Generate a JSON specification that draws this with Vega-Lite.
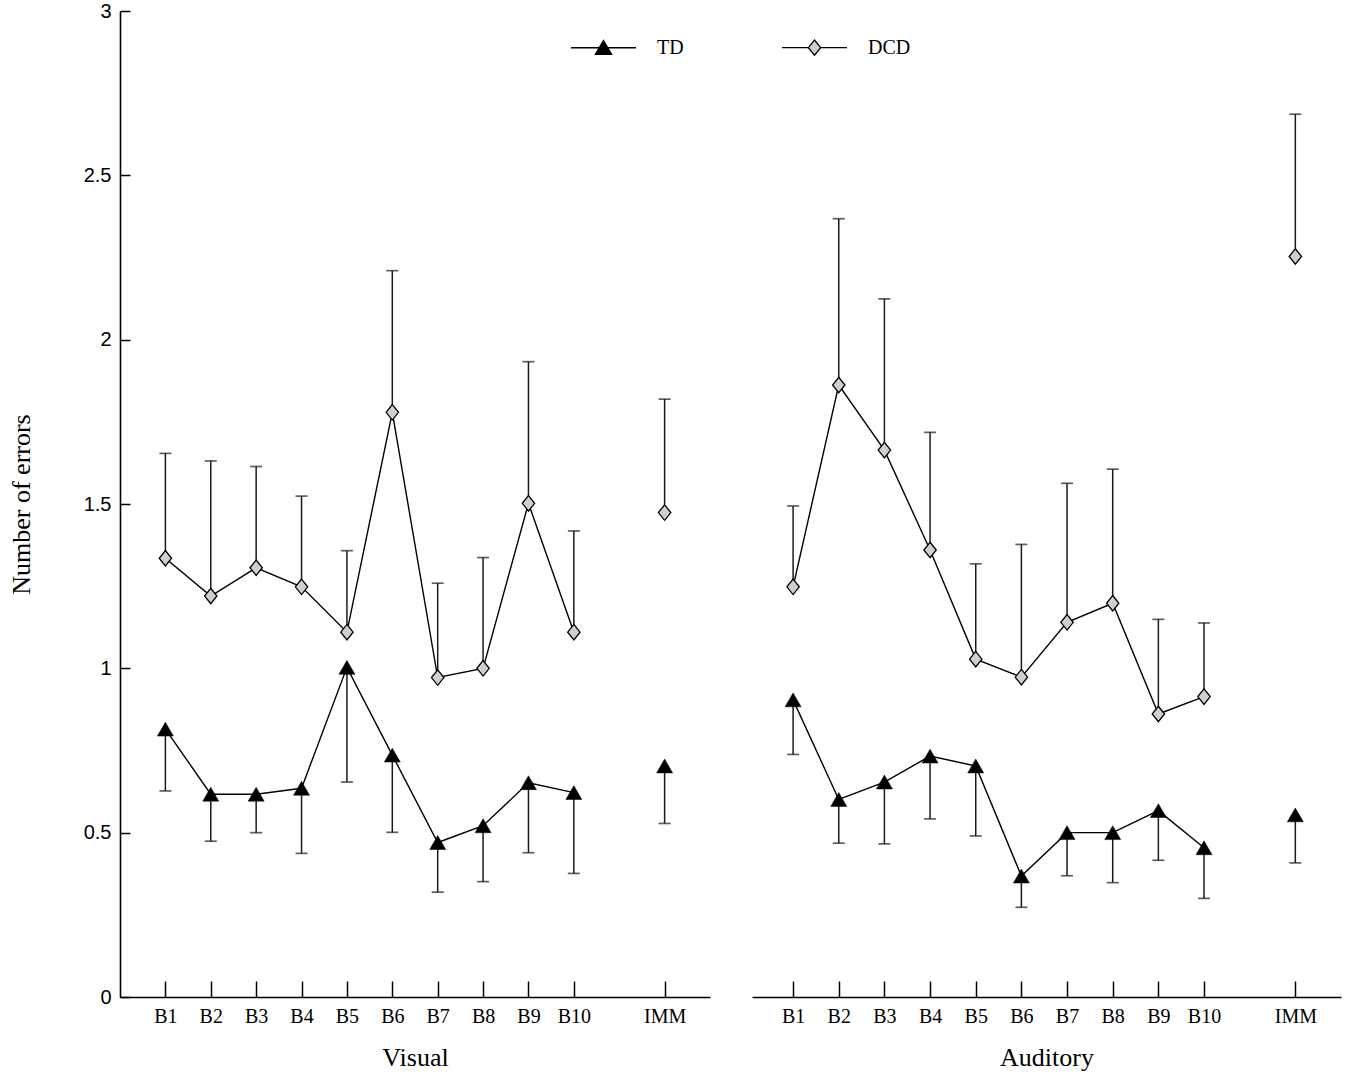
{
  "$schema": "https://vega.github.io/schema/vega-lite/v6.json",
  "background": "white",
  "padding": {"left": 8, "top": 1, "right": 5, "bottom": 5},
  "data": {
    "values": [
      {"panel": "Visual", "group": "TD", "label": "B1", "pos": 1, "errors": 0.815, "bar": 0.627},
      {"panel": "Visual", "group": "TD", "label": "B2", "pos": 2, "errors": 0.617, "bar": 0.474},
      {"panel": "Visual", "group": "TD", "label": "B3", "pos": 3, "errors": 0.617, "bar": 0.5},
      {"panel": "Visual", "group": "TD", "label": "B4", "pos": 4, "errors": 0.635, "bar": 0.437},
      {"panel": "Visual", "group": "TD", "label": "B5", "pos": 5, "errors": 1.003, "bar": 0.654},
      {"panel": "Visual", "group": "TD", "label": "B6", "pos": 6, "errors": 0.736, "bar": 0.501},
      {"panel": "Visual", "group": "TD", "label": "B7", "pos": 7, "errors": 0.47, "bar": 0.319},
      {"panel": "Visual", "group": "TD", "label": "B8", "pos": 8, "errors": 0.521, "bar": 0.351},
      {"panel": "Visual", "group": "TD", "label": "B9", "pos": 9, "errors": 0.652, "bar": 0.439},
      {"panel": "Visual", "group": "TD", "label": "B10", "pos": 10, "errors": 0.622, "bar": 0.376},
      {"panel": "Visual", "group": "TD", "label": "IMM", "pos": 12, "errors": 0.703, "bar": 0.528},
      {"panel": "Visual", "group": "DCD", "label": "B1", "pos": 1, "errors": 1.335, "bar": 1.654},
      {"panel": "Visual", "group": "DCD", "label": "B2", "pos": 2, "errors": 1.22, "bar": 1.631},
      {"panel": "Visual", "group": "DCD", "label": "B3", "pos": 3, "errors": 1.306, "bar": 1.614},
      {"panel": "Visual", "group": "DCD", "label": "B4", "pos": 4, "errors": 1.248, "bar": 1.524},
      {"panel": "Visual", "group": "DCD", "label": "B5", "pos": 5, "errors": 1.11, "bar": 1.358},
      {"panel": "Visual", "group": "DCD", "label": "B6", "pos": 6, "errors": 1.779, "bar": 2.21},
      {"panel": "Visual", "group": "DCD", "label": "B7", "pos": 7, "errors": 0.972, "bar": 1.259},
      {"panel": "Visual", "group": "DCD", "label": "B8", "pos": 8, "errors": 1.0, "bar": 1.337},
      {"panel": "Visual", "group": "DCD", "label": "B9", "pos": 9, "errors": 1.502, "bar": 1.933},
      {"panel": "Visual", "group": "DCD", "label": "B10", "pos": 10, "errors": 1.11, "bar": 1.418},
      {"panel": "Visual", "group": "DCD", "label": "IMM", "pos": 12, "errors": 1.474, "bar": 1.819},
      {"panel": "Auditory", "group": "TD", "label": "B1", "pos": 1, "errors": 0.904, "bar": 0.738},
      {"panel": "Auditory", "group": "TD", "label": "B2", "pos": 2, "errors": 0.601, "bar": 0.468},
      {"panel": "Auditory", "group": "TD", "label": "B3", "pos": 3, "errors": 0.654, "bar": 0.466},
      {"panel": "Auditory", "group": "TD", "label": "B4", "pos": 4, "errors": 0.733, "bar": 0.542},
      {"panel": "Auditory", "group": "TD", "label": "B5", "pos": 5, "errors": 0.703, "bar": 0.49},
      {"panel": "Auditory", "group": "TD", "label": "B6", "pos": 6, "errors": 0.368, "bar": 0.273},
      {"panel": "Auditory", "group": "TD", "label": "B7", "pos": 7, "errors": 0.5, "bar": 0.369},
      {"panel": "Auditory", "group": "TD", "label": "B8", "pos": 8, "errors": 0.5, "bar": 0.348},
      {"panel": "Auditory", "group": "TD", "label": "B9", "pos": 9, "errors": 0.567, "bar": 0.416},
      {"panel": "Auditory", "group": "TD", "label": "B10", "pos": 10, "errors": 0.454, "bar": 0.3},
      {"panel": "Auditory", "group": "TD", "label": "IMM", "pos": 12, "errors": 0.554, "bar": 0.408},
      {"panel": "Auditory", "group": "DCD", "label": "B1", "pos": 1, "errors": 1.248, "bar": 1.494},
      {"panel": "Auditory", "group": "DCD", "label": "B2", "pos": 2, "errors": 1.862, "bar": 2.368},
      {"panel": "Auditory", "group": "DCD", "label": "B3", "pos": 3, "errors": 1.664, "bar": 2.124},
      {"panel": "Auditory", "group": "DCD", "label": "B4", "pos": 4, "errors": 1.36, "bar": 1.718},
      {"panel": "Auditory", "group": "DCD", "label": "B5", "pos": 5, "errors": 1.028, "bar": 1.318},
      {"panel": "Auditory", "group": "DCD", "label": "B6", "pos": 6, "errors": 0.973, "bar": 1.377},
      {"panel": "Auditory", "group": "DCD", "label": "B7", "pos": 7, "errors": 1.14, "bar": 1.563},
      {"panel": "Auditory", "group": "DCD", "label": "B8", "pos": 8, "errors": 1.198, "bar": 1.606},
      {"panel": "Auditory", "group": "DCD", "label": "B9", "pos": 9, "errors": 0.861, "bar": 1.149},
      {"panel": "Auditory", "group": "DCD", "label": "B10", "pos": 10, "errors": 0.914, "bar": 1.138},
      {"panel": "Auditory", "group": "DCD", "label": "IMM", "pos": 12, "errors": 2.253, "bar": 2.686}
    ]
  },
  "spacing": 42,
  "hconcat": [
    {
      "width": 590,
      "height": 986,
      "transform": [{"filter": "datum.panel === 'Visual'"}],
      "encoding": {
        "x": {
          "field": "pos",
          "type": "quantitative",
          "scale": {"domain": [0, 13], "nice": false, "zero": false},
          "axis": {
            "title": "Visual",
            "values": [1, 2, 3, 4, 5, 6, 7, 8, 9, 10, 12],
            "labelExpr": "datum.value == 12 ? 'IMM' : 'B' + datum.value"
          }
        },
        "y": {
          "field": "errors",
          "type": "quantitative",
          "scale": {"domain": [0, 3], "nice": false},
          "axis": {
            "title": "Number of errors",
            "values": [0, 0.5, 1, 1.5, 2, 2.5, 3],
            "format": "~g"
          }
        }
      },
      "layer": [
        {
          "mark": {"type": "rule", "color": "#1a1a1a", "strokeWidth": 1.5},
          "encoding": {"y2": {"field": "bar"}}
        },
        {
          "mark": {"type": "tick", "orient": "horizontal", "color": "#1a1a1a", "thickness": 1.7},
          "encoding": {
            "y": {
              "field": "bar",
              "type": "quantitative",
              "axis": {
                "title": "Number of errors",
                "values": [0, 0.5, 1, 1.5, 2, 2.5, 3],
                "format": "~g"
              }
            },
            "size": {"value": 12}
          }
        },
        {
          "transform": [{"filter": "datum.pos <= 10"}],
          "mark": {"type": "line", "color": "black", "strokeWidth": 1.4},
          "encoding": {"detail": {"field": "group", "type": "nominal"}}
        },
        {
          "transform": [{"filter": "datum.group === 'TD'"}],
          "mark": {"type": "point", "shape": "triangle-up", "filled": true, "fill": "black", "stroke": "black", "strokeWidth": 0.5, "size": 256, "opacity": 1}
        },
        {
          "transform": [{"filter": "datum.group === 'DCD'"}],
          "mark": {"type": "point", "shape": "M0,-1L0.8,0L0,1L-0.8,0Z", "filled": true, "fill": "#cfcfcf", "stroke": "black", "strokeWidth": 1.3, "size": 240, "opacity": 1}
        },
        {
          "mark": {"type": "point", "filled": false, "stroke": "black", "strokeWidth": 1.3, "opacity": 0},
          "encoding": {
            "shape": {
              "field": "group",
              "type": "nominal",
              "scale": {
                "domain": ["TD", "DCD"],
                "range": [
                  "M-1,0H1M0,-0.22L0.25,0.2L-0.25,0.2Z",
                  "M-1,0H-0.19M0.19,0H1M0,-0.235L0.19,0L0,0.235L-0.19,0Z"
                ]
              },
              "legend": {
                "title": null,
                "orient": "none",
                "legendX": 450,
                "legendY": 3,
                "direction": "horizontal",
                "padding": 0,
                "symbolSize": 4225,
                "symbolStrokeWidth": 1.3,
                "symbolOpacity": 1,
                "labelOffset": 20,
                "columnPadding": 95,
                "labelFont": "Liberation Serif",
                "labelFontSize": 20,
                "labelColor": "black"
              }
            },
            "fill": {
              "field": "group",
              "type": "nominal",
              "scale": {"domain": ["TD", "DCD"], "range": ["black", "#cfcfcf"]},
              "legend": {
                "title": null,
                "orient": "none",
                "legendX": 450,
                "legendY": 3,
                "direction": "horizontal",
                "padding": 0,
                "symbolSize": 4225,
                "symbolStrokeWidth": 1.3,
                "symbolOpacity": 1,
                "labelOffset": 20,
                "columnPadding": 95,
                "labelFont": "Liberation Serif",
                "labelFontSize": 20,
                "labelColor": "black"
              }
            }
          }
        }
      ]
    },
    {
      "width": 589,
      "height": 986,
      "transform": [{"filter": "datum.panel === 'Auditory'"}],
      "encoding": {
        "x": {
          "field": "pos",
          "type": "quantitative",
          "scale": {"domain": [0.1, 13], "nice": false, "zero": false},
          "axis": {
            "title": "Auditory",
            "values": [1, 2, 3, 4, 5, 6, 7, 8, 9, 10, 12],
            "labelExpr": "datum.value == 12 ? 'IMM' : 'B' + datum.value"
          }
        },
        "y": {
          "field": "errors",
          "type": "quantitative",
          "scale": {"domain": [0, 3], "nice": false},
          "axis": null
        }
      },
      "layer": [
        {
          "mark": {"type": "rule", "color": "#1a1a1a", "strokeWidth": 1.5},
          "encoding": {"y2": {"field": "bar"}}
        },
        {
          "mark": {"type": "tick", "orient": "horizontal", "color": "#1a1a1a", "thickness": 1.7},
          "encoding": {
            "y": {"field": "bar", "type": "quantitative", "axis": null},
            "size": {"value": 12}
          }
        },
        {
          "transform": [{"filter": "datum.pos <= 10"}],
          "mark": {"type": "line", "color": "black", "strokeWidth": 1.4},
          "encoding": {"detail": {"field": "group", "type": "nominal"}}
        },
        {
          "transform": [{"filter": "datum.group === 'TD'"}],
          "mark": {"type": "point", "shape": "triangle-up", "filled": true, "fill": "black", "stroke": "black", "strokeWidth": 0.5, "size": 256, "opacity": 1}
        },
        {
          "transform": [{"filter": "datum.group === 'DCD'"}],
          "mark": {"type": "point", "shape": "M0,-1L0.8,0L0,1L-0.8,0Z", "filled": true, "fill": "#cfcfcf", "stroke": "black", "strokeWidth": 1.3, "size": 240, "opacity": 1}
        }
      ]
    }
  ],
  "config": {
    "view": {"stroke": null},
    "axis": {
      "grid": false,
      "domainColor": "black",
      "domainWidth": 1.6,
      "tickColor": "black",
      "tickWidth": 1.5,
      "labelColor": "black",
      "titleColor": "black",
      "titleFont": "Liberation Serif",
      "titleFontSize": 26,
      "titleFontWeight": "normal"
    },
    "axisX": {
      "tickSize": -16,
      "labelPadding": 25,
      "labelFont": "Liberation Serif",
      "labelFontSize": 20,
      "labelFlush": false,
      "titlePadding": 18
    },
    "axisY": {
      "tickSize": -10,
      "labelPadding": 19,
      "labelFont": "Liberation Sans",
      "labelFontSize": 20,
      "titlePadding": 49
    }
  }
}
